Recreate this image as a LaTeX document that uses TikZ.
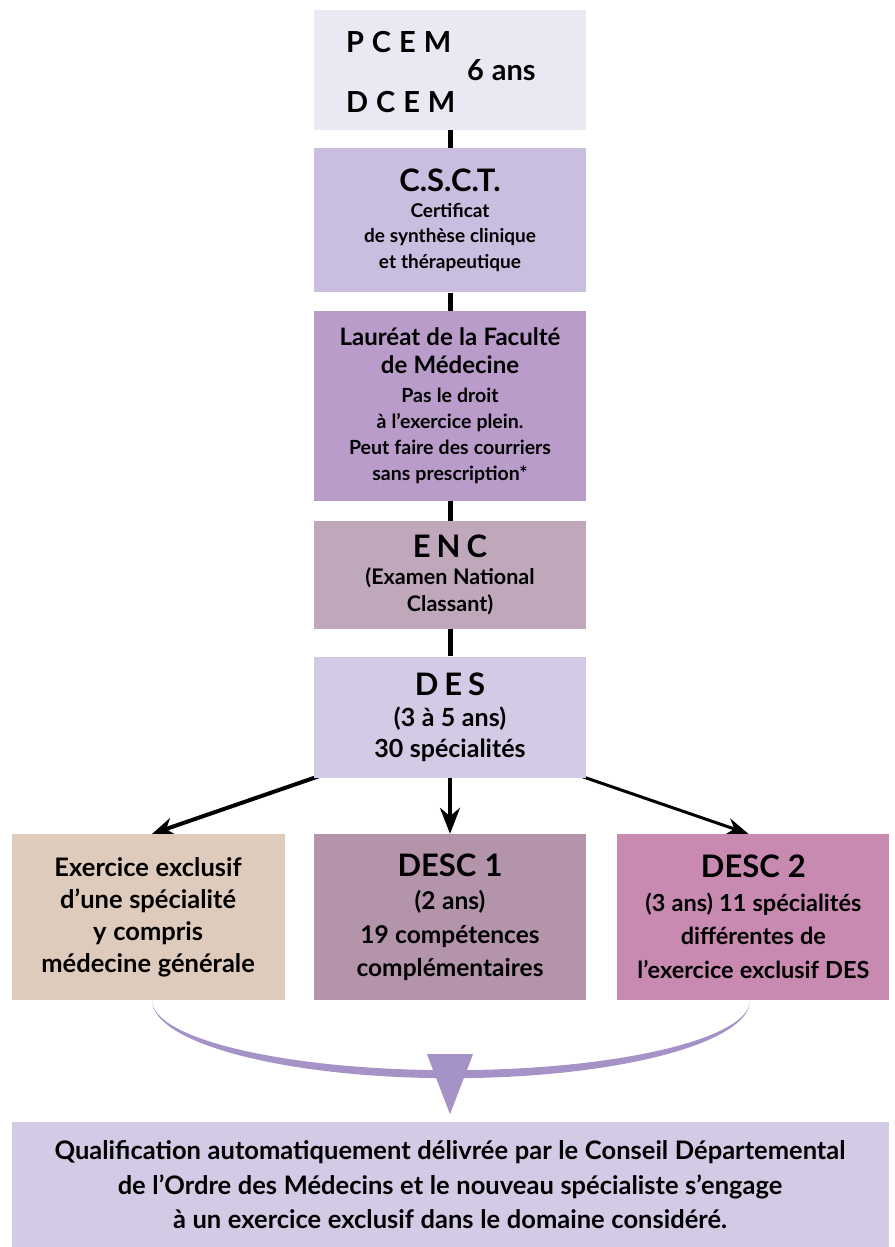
\documentclass[tikz,border=0pt]{standalone}
\usepackage{fontspec}
\setmainfont{Lato}
\usetikzlibrary{arrows.meta, positioning, backgrounds}

\definecolor{pcemfill}{HTML}{EBE7F3}
\definecolor{csctfill}{HTML}{C9BEDF}
\definecolor{laurfill}{HTML}{B99CCA}
\definecolor{encfill}{HTML}{BFA7BC}
\definecolor{desfill}{HTML}{D3CAE5}
\definecolor{exclfill}{HTML}{DFCBBB}
\definecolor{descafill}{HTML}{B394AB}
\definecolor{descbfill}{HTML}{C98AB1}
\definecolor{mergefill}{HTML}{A593C7}

\newcommand{\widesp}{\spaceskip=0.26em\relax}
\newcommand{\headsize}{\fontsize{31}{34}\selectfont\widesp}
\newcommand{\spacedsize}{\fontsize{31}{34}\selectfont\spaceskip=6pt\relax}
\newcommand{\pcemsize}{\fontsize{29}{32}\selectfont\spaceskip=8pt\relax}
\newcommand{\subheadsize}{\fontsize{24}{27.5}\selectfont\widesp}
\newcommand{\smallsize}{\fontsize{19}{25.5}\selectfont\widesp}
\newcommand{\notesize}{\fontsize{19.5}{26}\selectfont\widesp}
\newcommand{\midsize}{\fontsize{21.5}{27}\selectfont\widesp}
\newcommand{\dessize}{\fontsize{25}{31}\selectfont\widesp}
\newcommand{\rowsize}{\fontsize{25.5}{32}\selectfont\widesp}
\newcommand{\descsize}{\fontsize{24.5}{33.5}\selectfont\widesp}
\newcommand{\descbsize}{\fontsize{23.5}{33.5}\selectfont\widesp}
\newcommand{\finalsize}{\fontsize{25.5}{34.5}\selectfont\widesp}

\tikzstyle{stage} = [rectangle, text width=272pt, align=center, inner sep=0pt, font=\bfseries]
\tikzstyle{link} = [line width=5pt]
\tikzstyle{arrow} = [line width=4pt, -{Stealth[length=26pt, width=20pt]}]
\tikzstyle{merge} = [fill=mergefill]

\begin{document}
\begin{tikzpicture}[x=1pt, y=-1pt, node distance=18pt]
    \useasboundingbox (0,0) rectangle (894,1247);

    % Studies
    \node (pcem) [stage, fill=pcemfill, minimum height=120pt] at (450,70) {};
    \node (pcemtxt) [anchor=west, font=\bfseries, inner sep=0pt] at ([xshift=32pt, yshift=28pt]pcem.west) {\pcemsize P C E M};
    \node (dcemtxt) [anchor=west, font=\bfseries, inner sep=0pt] at ([xshift=32pt, yshift=-32pt]pcem.west) {\pcemsize D C E M};
    \node (years) [anchor=west, font=\bfseries, inner sep=0pt] at ([xshift=153pt]pcem.west) {\pcemsize 6 ans};

    % Certificate and title
    \node (csct) [stage, fill=csctfill, minimum height=144pt, below=of pcem] {\headsize C.S.C.T.\par\smallsize Certificat\\ de synthèse clinique\\ et thérapeutique\par};
    \node (laureat) [stage, fill=laurfill, minimum height=190pt, below=of csct] {\subheadsize Lauréat de la Faculté\\ de Médecine\par\vspace{3pt}\notesize Pas le droit\\ à l’exercice plein.\\ Peut faire des courriers\\ sans prescription*\par};

    % Exam and DES
    \node (enc) [stage, fill=encfill, minimum height=108pt, below=20pt of laureat] {\spacedsize E N C\par\midsize (Examen National\\ Classant)\par};
    \node (des) [stage, fill=desfill, minimum height=121pt, below=27pt of enc] {\spacedsize D E S\par\dessize (3 à 5 ans)\\ 30 spécialités\par};

    % Paths after DES
    \node (desc1) [stage, fill=descafill, minimum height=166pt, below=56pt of des] {\headsize DESC 1\par\descsize (2 ans)\\ 19 compétences\\ complémentaires\par};
    \node (excl) [stage, fill=exclfill, minimum height=166pt, text width=273pt, left=29pt of desc1] {\rowsize Exercice exclusif\\ d’une spécialité\\ y compris\\ médecine générale\par};
    \node (desc2) [stage, fill=descbfill, minimum height=166pt, right=31pt of desc1] {\headsize DESC 2\par\descbsize (3 ans) 11 spécialités\\ différentes de\\ l’exercice exclusif DES\par};

    % Qualification
    \node (final) [stage, fill=desfill, minimum height=125pt, text width=877pt, below=122pt of desc1] {\finalsize Qualification automatiquement délivrée par le Conseil Départemental\\ de l’Ordre des Médecins et le nouveau spécialiste s’engage\\ à un exercice exclusif dans le domaine considéré.\par};

    % Arrows
    \draw [link] (pcem) -- (csct);
    \draw [link] (csct) -- (laureat);
    \draw [link] (laureat) -- (enc);
    \draw [link] (enc) -- (des);
    \draw [arrow] (des) -- (desc1);
    \begin{scope}[on background layer]
        \draw [line width=4pt, -{Stealth[length=22pt, width=18pt]}] ([xshift=12pt, yshift=4pt]des.south west) -- ([xshift=4pt]excl.north);
        \draw [line width=3pt, -{Stealth[length=22pt, width=17pt]}] ([xshift=-12pt, yshift=4pt]des.south east) -- ([xshift=-5pt]desc2.north);
    \end{scope}

    % Merge
    \fill [merge] ([xshift=4pt]excl.south) arc [start angle=180, end angle=360, x radius=299pt, y radius=78pt]
        arc [start angle=360, end angle=180, x radius=299pt, y radius=70pt] -- cycle;
    \coordinate (tip) at ([yshift=8pt]final.north);
    \fill [merge] (tip) -- ++(-23pt,60pt) -- ++(46pt,0pt) -- cycle;
\end{tikzpicture}
\end{document}
